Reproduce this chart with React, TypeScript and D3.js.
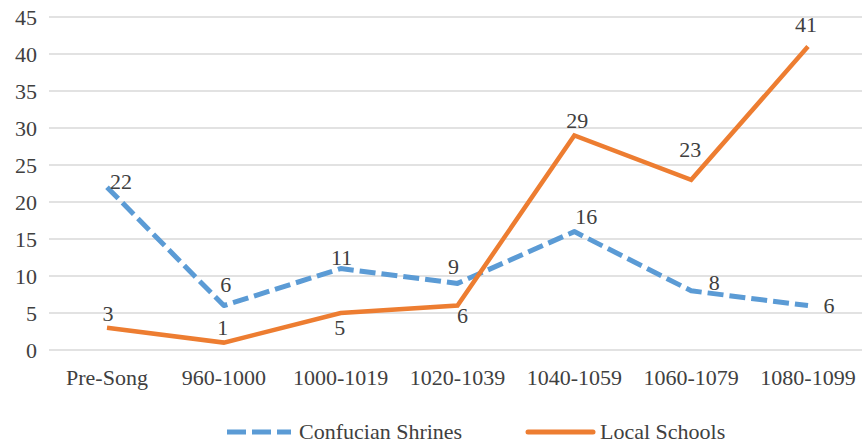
import React from 'react';
import * as d3 from 'd3';

const categories = ['Pre-Song', '960-1000', '1000-1019', '1020-1039', '1040-1059', '1060-1079', '1080-1099'];
const shrines = [22, 6, 11, 9, 16, 8, 6];
const schools = [3, 1, 5, 6, 29, 23, 41];
const yTicks = [0, 5, 10, 15, 20, 25, 30, 35, 40, 45];

// label nudges (dx, dy) relative to each point, as in the original figure
const shrineLabelOffsets: [number, number][] = [[14, 2], [2, -14], [1, -4], [-4, -9], [12, -8], [23, -1], [21, 7]];
const schoolLabelOffsets: [number, number][] = [[1, -7], [-1, -8], [-1, 22], [5, 17], [3, -7], [-1, -23], [-2, -15]];

const W = 862;
const H = 445;
const BLUE = '#5B9BD5';
const ORANGE = '#ED7D31';
const TEXT = '#404040';
const FONT = "'Liberation Serif'";

const App: React.FC = () => {
  const x = d3.scalePoint<string>().domain(categories).range([107, 808]);
  const y = d3.scaleLinear().domain([0, 45]).range([350, 17]);

  const line = d3.line<number>()
    .x((_d, i) => x(categories[i]) as number)
    .y(d => y(d));

  const txt = { fontFamily: FONT, fontSize: '22px', fill: TEXT };

  const labels = (vals: number[], offs: [number, number][]) =>
    vals.map((v, i) => (
      <text
        key={i}
        x={(x(categories[i]) as number) + offs[i][0]}
        y={y(v) + offs[i][1]}
        textAnchor="middle"
        style={txt}
      >
        {v}
      </text>
    ));

  return (
    <div style={{ position: 'absolute', left: 0, top: 0 }}>
      <svg width={W} height={H} style={{ display: 'block', background: '#fff' }}>
        <g>
          {yTicks.map(t => (
            <g key={t}>
              <line x1={49} x2={W} y1={y(t)} y2={y(t)} stroke="#D9D9D9" strokeWidth={1.4} />
              <text x={37} y={y(t) + 7.5} textAnchor="end" style={txt}>{t}</text>
            </g>
          ))}
        </g>
        <g>
          {categories.map(c => (
            <text key={c} x={x(c)} y={385} textAnchor="middle" style={txt}>{c}</text>
          ))}
        </g>
        <path d={line(shrines) || ''} fill="none" stroke={BLUE} strokeWidth={5} strokeDasharray="16,6" strokeLinejoin="round" />
        <path d={line(schools) || ''} fill="none" stroke={ORANGE} strokeWidth={4.5} strokeLinejoin="miter" />
        <g>{labels(shrines, shrineLabelOffsets)}</g>
        <g>{labels(schools, schoolLabelOffsets)}</g>
        <g>
          <line x1={227} x2={291} y1={432} y2={432} stroke={BLUE} strokeWidth={5} strokeDasharray="19,6" />
          <text x={299} y={439} style={txt}>Confucian Shrines</text>
          <line x1={528} x2={593} y1={432} y2={432} stroke={ORANGE} strokeWidth={5} strokeLinecap="round" />
          <text x={600} y={439} style={txt}>Local Schools</text>
        </g>
      </svg>
    </div>
  );
};

export default App;
